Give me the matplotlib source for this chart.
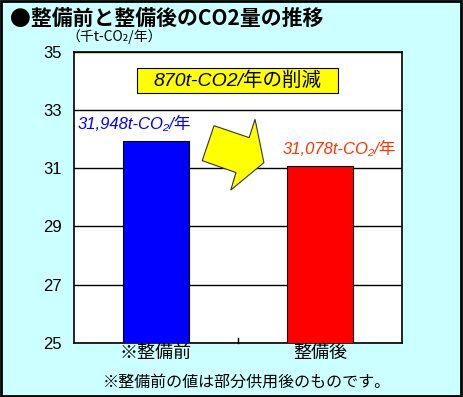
import matplotlib
matplotlib.use("Agg")
import matplotlib.pyplot as plt
from matplotlib.patches import Polygon, Rectangle

########################################
# Data
########################################
categories = ["※整備前", "整備後"]
co2_values = [31.948, 31.078]          # 千t-CO2/年
value_labels = ["31,948t-CO₂/年", "31,078t-CO₂/年"]
bar_colors = ["#0000FF", "#FF0000"]
label_colors = ["#0000FF", "#FF3300"]
y_ticks = [25, 27, 29, 31, 33, 35]

title = "●整備前と整備後のCO2量の推移"
unit_text = "（千t-CO₂/年）"
reduction_text = "870t-CO2/年の削減"
note_text = "※整備前の値は部分供用後のものです。"

JP = ["Noto Sans CJK JP", "DejaVu Sans"]
IT = ["Liberation Sans", "Noto Sans CJK JP"]
plt.rcParams["font.family"] = JP

########################################
# Figure
########################################
fig = plt.figure(figsize=(4.63, 3.97), dpi=100)
fig.patch.set_facecolor("#CCFFFF")
fig.patches.append(Rectangle((0.002, 0.003), 0.994, 0.994, transform=fig.transFigure,
                             fill=False, edgecolor="black", linewidth=2, zorder=10))

ax = fig.add_axes([0.1598, 0.136, 0.7084, 0.7338])
ax.set_facecolor("white")

x = range(len(categories))
ax.bar(x, co2_values, width=0.4, color=bar_colors, edgecolor="black", linewidth=0.8, zorder=3)

ax.set_ylim(25, 35)
ax.set_xlim(-0.5, 1.5)
ax.set_yticks(y_ticks)
ax.set_yticklabels([str(t) for t in y_ticks], fontsize=12, family=["Liberation Sans"])
ax.tick_params(axis="y", length=0, pad=9)
ax.yaxis.grid(True, color="black", linewidth=1, zorder=0)
ax.set_axisbelow(True)

ax.set_xticks(x)
ax.set_xticklabels(categories, fontsize=13)
ax.tick_params(axis="x", length=0, pad=1)
# category separator tick
ax.plot([0.5, 0.5], [25, 25.18], color="black", linewidth=1, zorder=4, clip_on=False)

for s in ax.spines.values():
    s.set_linewidth(1.2)
    s.set_color("black")

# value labels
ax.text(-0.48, co2_values[0] + 0.3, value_labels[0], color=label_colors[0],
        fontsize=12, style="italic", family=IT, ha="left", va="bottom")
ax.text(0.77, co2_values[1] + 0.3, value_labels[1], color=label_colors[1],
        fontsize=12, style="italic", family=IT, ha="left", va="bottom")

# reduction box
ax.add_patch(Rectangle((0.191, 0.857), 0.613, 0.086, transform=ax.transAxes,
                       facecolor="#FFFF00", edgecolor="black", linewidth=0.8, zorder=6))
ax.text(0.4975, 0.900, reduction_text, transform=ax.transAxes, ha="center", va="center",
        fontsize=14, style="italic", family=IT, zorder=7)

# yellow bent arrow (axes fraction)
arrow_pts = [(0.427, 0.746), (0.534, 0.705), (0.552, 0.768), (0.579, 0.619),
             (0.478, 0.525), (0.494, 0.585), (0.391, 0.626)]
ax.add_patch(Polygon(arrow_pts, closed=True, transform=ax.transAxes, facecolor="#FFFF00",
                     edgecolor="#333333", linewidth=0.8, zorder=5))

# titles and notes
fig.text(10 / 463, 1 - 18.5 / 397, title, fontsize=15, fontweight="bold",
         ha="left", va="center")
fig.text(66 / 463, 1 - 37 / 397, unit_text, fontsize=10, ha="left", va="center")
fig.text(247 / 463, 1 - 382 / 397, note_text, fontsize=11.5, ha="center", va="center")

fig.savefig("out.png", dpi=100, facecolor=fig.get_facecolor())
